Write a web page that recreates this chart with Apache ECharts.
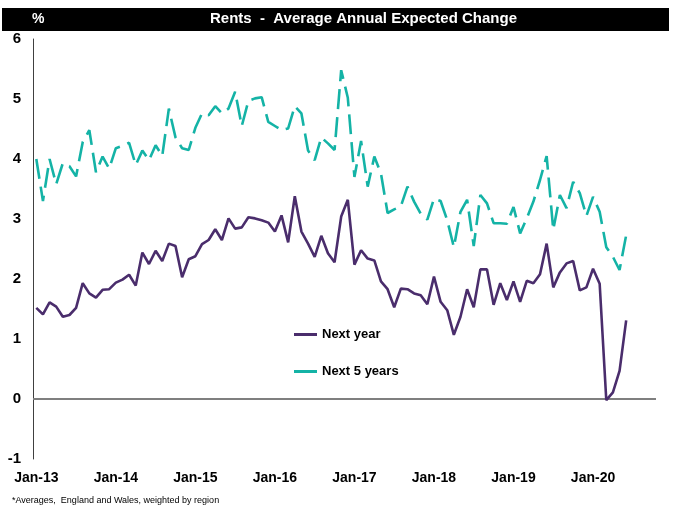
<!DOCTYPE html>
<html>
<head>
<meta charset="utf-8">
<script src="https://cdn.jsdelivr.net/npm/echarts@6/dist/echarts.min.js"></script>
<style>
html,body{margin:0;padding:0;background:#fff;}
#chart{width:673px;height:510px;}
</style>
</head>
<body>
<div id="chart"></div>
<script>
// ---- data ----
const years = ['13','14','15','16','17','18','19','20'];
const monthNames = ['Jan','Feb','Mar','Apr','May','Jun','Jul','Aug','Sep','Oct','Nov','Dec'];
const categoryCount = 94; // Jan-13 .. Oct-20 (axis extends past last survey)
const categories = [];
for (const y of years) for (const m of monthNames) if (categories.length < categoryCount) categories.push(m + '-' + y);

const nextYear = [
  1.52, 1.41, 1.61, 1.54, 1.37, 1.40, 1.52, 1.93, 1.76, 1.69,
  1.82, 1.83, 1.94, 1.99, 2.07, 1.89, 2.44, 2.25, 2.47, 2.30,
  2.59, 2.55, 2.03, 2.33, 2.38, 2.58, 2.65, 2.83, 2.65, 3.01,
  2.84, 2.86, 3.03, 3.01, 2.98, 2.94, 2.79, 3.06, 2.61, 3.38,
  2.79, 2.59, 2.37, 2.72, 2.43, 2.28, 3.04, 3.32, 2.24, 2.48,
  2.34, 2.31, 1.96, 1.83, 1.53, 1.84, 1.83, 1.76, 1.73, 1.58,
  2.04, 1.62, 1.48, 1.07, 1.37, 1.83, 1.53, 2.16, 2.16, 1.57,
  1.93, 1.65, 1.96, 1.62, 1.97, 1.93, 2.08, 2.59, 1.86, 2.11,
  2.26, 2.30, 1.81, 1.86, 2.17, 1.92, -0.02, 0.11, 0.47, 1.31
];
const next5Years = [
  4.00, 3.30, 4.00, 3.58, 3.93, 3.88, 3.71, 4.28, 4.48, 3.78,
  4.04, 3.84, 4.18, 4.22, 4.27, 3.90, 4.14, 3.98, 4.23, 4.05,
  4.84, 4.36, 4.18, 4.15, 4.52, 4.76, 4.73, 4.88, 4.76, 4.84,
  5.12, 4.55, 4.97, 5.01, 5.03, 4.62, 4.55, 4.48, 4.51, 4.88,
  4.76, 4.14, 3.98, 4.36, 4.26, 4.15, 5.48, 5.02, 3.70, 4.30,
  3.54, 4.04, 3.76, 3.10, 3.16, 3.21, 3.54, 3.29, 3.09, 2.99,
  3.34, 3.30, 2.98, 2.53, 3.12, 3.32, 2.55, 3.40, 3.26, 2.93,
  2.93, 2.92, 3.20, 2.76, 3.01, 3.29, 3.65, 4.05, 2.82, 3.40,
  3.18, 3.62, 3.43, 3.05, 3.37, 3.12, 2.53, 2.37, 2.15, 2.73
];
const seriesNames = ['Next year', 'Next 5 years'];
const yMin = -1, yMax = 6, yStep = 1;
const titleText = 'Rents  -  Average Annual Expected Change';
const unitText = '%';
const footnoteText = '*Averages,  England and Wales, weighted by region';

// ---- chart ----
const FONT = "'Liberation Sans Narrow','Arial Narrow','Liberation Sans',Arial,sans-serif";
const chart = echarts.init(document.getElementById('chart'), null, {renderer: 'canvas'});
chart.setOption({
  animation: false,
  backgroundColor: '#ffffff',
  graphic: [{
    type: 'rect', left: 2, top: 8, z: 0,
    shape: {width: 667, height: 23},
    style: {fill: '#000000'}
  }],
  title: [
    {text: unitText, left: 32, top: 12, padding: 0,
     textStyle: {color: '#fff', fontSize: 14, fontWeight: 'bold', fontFamily: FONT}},
    {text: titleText, left: 210, top: 11, padding: 0,
     textStyle: {color: '#fff', fontSize: 15, fontWeight: 'bold', fontFamily: FONT}},
    {text: footnoteText, left: 12, top: 496, padding: 0,
     textStyle: {color: '#000', fontSize: 9, fontWeight: 'normal', fontFamily: FONT}}
  ],
  grid: {left: 33, right: 17, top: 39, bottom: 51, containLabel: false},
  legend: {
    orient: 'vertical', left: 289, top: 323, itemWidth: 23, itemHeight: 3, itemGap: 24,
    data: [{name: seriesNames[0], icon: 'rect'}, {name: seriesNames[1], icon: 'rect'}],
    textStyle: {color: '#000', fontSize: 13, fontWeight: 'bold', fontFamily: FONT}
  },
  xAxis: {
    type: 'category', data: categories, boundaryGap: true,
    axisLine: {show: false, onZero: false},
    axisTick: {show: false},
    axisLabel: {interval: 11, margin: 12, color: '#000', fontSize: 14, fontWeight: 'bold', fontFamily: FONT},
    splitLine: {show: false}
  },
  yAxis: {
    type: 'value', min: yMin, max: yMax, interval: yStep,
    axisLine: {show: true, lineStyle: {color: '#404040', width: 1}},
    axisTick: {show: false},
    axisLabel: {margin: 12, color: '#000', fontSize: 15, fontWeight: 'bold', fontFamily: FONT},
    splitLine: {show: false}
  },
  series: [
    {
      name: seriesNames[0], type: 'line', data: nextYear, symbol: 'none', showSymbol: false,
      lineStyle: {color: '#4a2d6c', width: 2.6}, itemStyle: {color: '#4a2d6c'}, z: 3,
      markLine: {
        silent: true, symbol: ['none', 'none'], label: {show: false},
        lineStyle: {color: '#7f7f7f', width: 2, type: 'solid'},
        data: [{yAxis: 0}], z: 1
      }
    },
    {
      name: seriesNames[1], type: 'line', data: next5Years, symbol: 'none', showSymbol: false,
      lineStyle: {color: '#14b3a6', width: 2.6, type: [20, 8]}, itemStyle: {color: '#14b3a6'}, z: 2
    }
  ]
});
</script>
</body>
</html>
